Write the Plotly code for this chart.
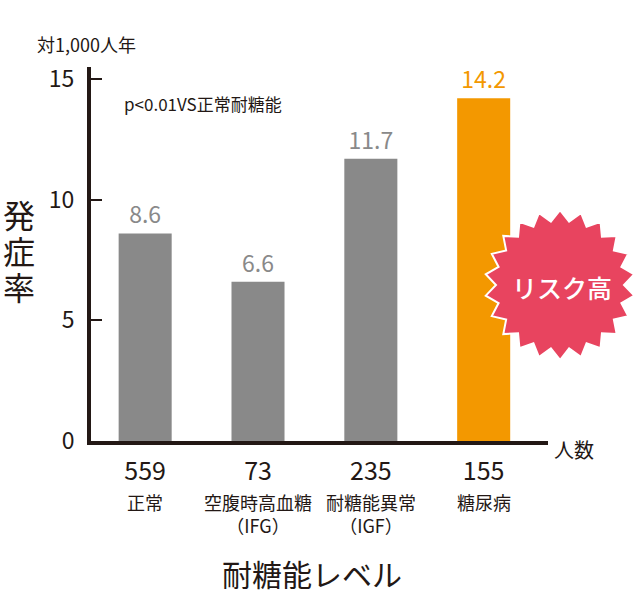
import numpy as np
import plotly.graph_objects as go

# data
categories = ["正常", "空腹時高血糖<br>（IFG）", "耐糖能異常<br>（IGF）", "糖尿病"]
counts = ["559", "73", "235", "155"]
rates = [8.6, 6.6, 11.7, 14.2]
y_ticks = [0, 5, 10, 15]

GRAY = "#898989"
ORANGE = "#f39800"
INK = "#231815"
BURST = "#e8445f"
FONT = "Noto Sans CJK JP"

# plot box in pixels (left, right, top, bottom)
L, R, T, B = 91, 548, 67, 441
W, H = 640, 595


def px2paper(px, py):
    return (px - L) / (R - L), (B - py) / (B - T)


def label(px, py, text, size, color=INK, anchor="center", weight=None):
    ax, ay = px2paper(px, py)
    f = dict(size=size, color=color)
    if weight:
        f["weight"] = weight
    fig.add_annotation(x=ax, y=ay, xref="paper", yref="paper", xanchor=anchor,
                       yanchor="middle", text=text, showarrow=False, font=f)


xs = list(range(len(categories)))
bar_colors = [GRAY, GRAY, GRAY, ORANGE]

fig = go.Figure()
fig.add_trace(go.Bar(
    x=xs, y=rates, width=0.47,
    marker=dict(color=bar_colors, line=dict(width=0)),
    text=[f"{v:.1f}" for v in rates], textposition="outside",
    textfont=dict(family=FONT, size=23, color=bar_colors),
    cliponaxis=False, hoverinfo="skip",
))

fig.update_layout(
    width=W, height=H,
    margin=dict(l=L, r=W - R, t=T, b=H - B, pad=0),
    plot_bgcolor="white", paper_bgcolor="white",
    showlegend=False,
    font=dict(family=FONT, color=INK),
)
fig.update_xaxes(
    range=[-0.48, 3.57], tickvals=xs, ticktext=counts,
    tickfont=dict(size=25, color=INK), ticks="", ticklabelstandoff=5,
    showline=True, linewidth=4, linecolor=INK, showgrid=False, zeroline=False,
)
fig.update_yaxes(
    range=[0, 15.5], tickvals=y_ticks,
    tickfont=dict(size=23, color=INK),
    ticks="inside", ticklen=11, tickwidth=2, tickcolor=INK, ticklabelstandoff=8,
    showline=True, linewidth=4, linecolor=INK, showgrid=False, zeroline=False,
)

# category names under the counts
for x, name in zip(xs, categories):
    fig.add_annotation(x=x, y=0, xref="x", yref="paper", xanchor="center", yanchor="top",
                       yshift=-46, text=name, showarrow=False, font=dict(size=18, color=INK))

# stacked y-axis title
for i, ch in enumerate("発症率"):
    label(19, 214 + 36 * i, ch, 32)

label(86, 44, "対1,000人年", 18)
label(122, 104, "p<0.01VS正常耐糖能", 17, anchor="left")
label(574, 449, "人数", 20)
label(312, 573, "耐糖能レベル", 30)

# starburst badge
cx, cy, r_out, r_in, n = 560, 285, 75, 64, 22
ang = np.linspace(0, 2 * np.pi, 2 * n, endpoint=False) - np.pi / 2
rad = np.where(np.arange(2 * n) % 2 == 0, r_out, r_in)
pts = [px2paper(cx + r * np.cos(a), cy + r * np.sin(a)) for r, a in zip(rad, ang)]
path = "M " + " L ".join(f"{px:.4f},{py:.4f}" for px, py in pts) + " Z"
fig.add_shape(type="path", path=path, xref="paper", yref="paper",
              fillcolor=BURST, line=dict(color="white", width=2), layer="above")
label(cx + 2, cy + 2, "リスク高", 25, color="white", weight=500)

fig.write_html("out.html", config={"displayModeBar": False},
               post_script="document.body.style.margin='0';")
